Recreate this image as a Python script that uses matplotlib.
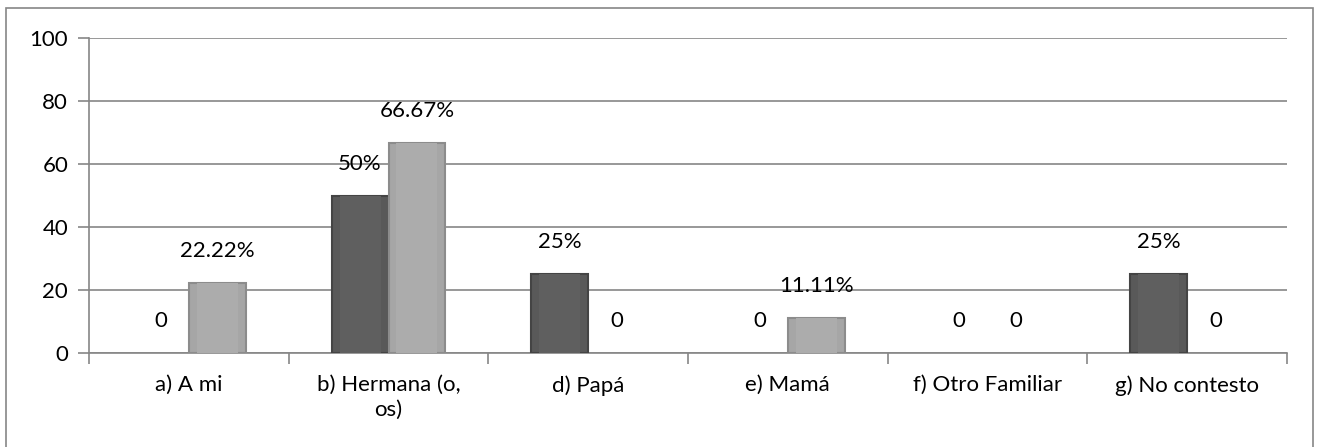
import numpy as np
import matplotlib.pyplot as plt
from matplotlib.patches import Rectangle

plt.rcParams['font.family'] = ['Lato', 'DejaVu Sans']

# data
categories = ['a) A mi', 'b) Hermana (o,\nos)', 'd) Papá', 'e) Mamá',
              'f) Otro Familiar', 'g) No contesto']
serie1 = [0, 50, 25, 0, 0, 25]
serie2 = [22.22, 66.67, 0, 11.11, 0, 0]
etiquetas1 = ['0', '50%', '25%', '0', '0', '25%']
etiquetas2 = ['22.22%', '66.67%', '0', '11.11%', '0', '0']

fs = 16

fig = plt.figure(figsize=(13.2, 4.47), dpi=100, facecolor='white')
ax = fig.add_axes([89 / 1320, 94 / 447, (1287 - 89) / 1320, 315 / 447])

# outer chart border
fig.patches.append(Rectangle((6 / 1320, -0.05), (1313 - 6) / 1320, (447 - 8) / 447 + 0.05,
                             transform=fig.transFigure, fill=False,
                             edgecolor='#868686', linewidth=1.2, clip_on=False))

x = np.arange(len(categories))
w = 0.285
b1 = ax.bar(x - w / 2, serie1, w, color='#595959', edgecolor='#444444', linewidth=1.5, zorder=3)
b2 = ax.bar(x + w / 2, serie2, w, color='#a6a6a6', edgecolor='#8c8c8c', linewidth=1.5, zorder=3)

# soft bevel: slightly lighter inner face
ax.bar(x - w / 2, serie1, w * 0.72, color='#5f5f5f', linewidth=0, zorder=3.5)
ax.bar(x + w / 2, serie2, w * 0.72, color='#acacac', linewidth=0, zorder=3.5)

for bars, labs in [(b1, etiquetas1), (b2, etiquetas2)]:
    for bar, lab in zip(bars, labs):
        if bar.get_height() == 0:
            bar.set_linewidth(0)
        ax.annotate(lab, (bar.get_x() + bar.get_width() / 2, bar.get_height()),
                    xytext=(0, 23), textcoords='offset points',
                    ha='center', va='center', fontsize=fs, color='black')

ax.set_ylim(0, 100)
ax.set_xlim(-0.5, len(categories) - 0.5)
ax.set_yticks(range(0, 101, 20))
ax.yaxis.grid(True, color='#868686', linewidth=1.2, zorder=0)
ax.set_axisbelow(True)

ax.set_xticks(x)
ax.set_xticklabels(categories, fontsize=fs, linespacing=1.3)
ax.tick_params(axis='x', length=0, pad=16)
ax.set_xticks(np.arange(-0.5, len(categories), 1), minor=True)
ax.tick_params(axis='x', which='minor', length=8, color='#868686', width=1.2)
ax.tick_params(axis='y', length=8, color='#868686', width=1.2, labelsize=fs, pad=7)

for s in ['top', 'right']:
    ax.spines[s].set_visible(False)
for s in ['left', 'bottom']:
    ax.spines[s].set_color('#868686')
    ax.spines[s].set_linewidth(1.2)

fig.savefig('out.png', dpi=100, facecolor='white')
